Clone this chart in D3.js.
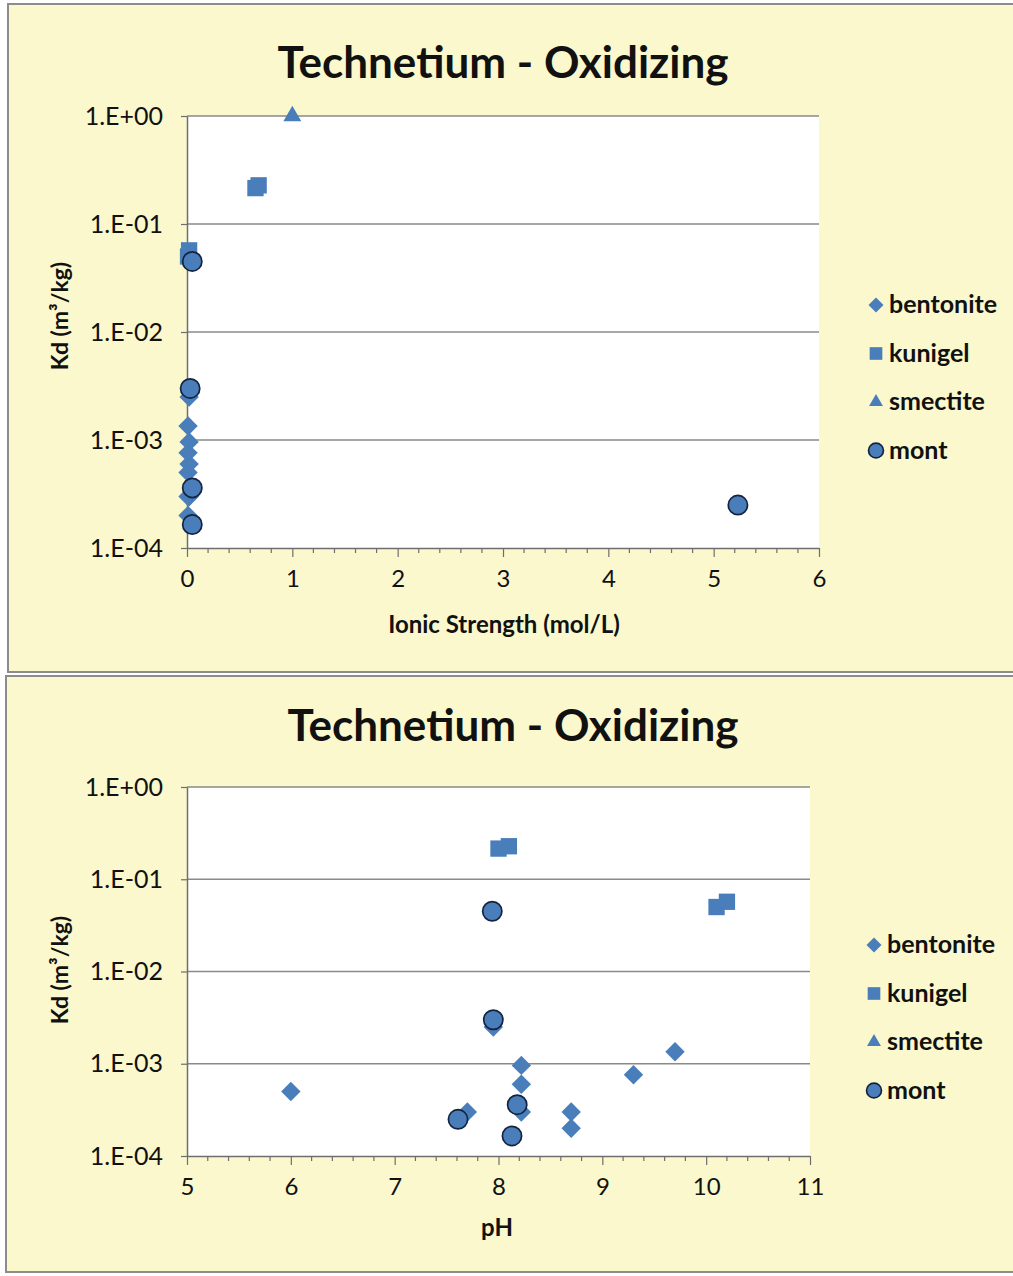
<!DOCTYPE html>
<html>
<head>
<meta charset="utf-8">
<script src="https://cdn.jsdelivr.net/npm/d3@7"></script>
<style>
  html, body { margin: 0; padding: 0; background: #ffffff; }
  svg { display: block; }
  text { font-family: Lato, "Open Sans", sans-serif; fill: #111; }
</style>
</head>
<body>
<svg id="chart" width="1013" height="1276"></svg>
<script>
// Technetium sorption under oxidizing conditions: Kd vs ionic strength and vs pH.
// Each series keeps ionic strength (mol/L), pH and Kd (m3/kg) per measurement.
const seriesNames = ["bentonite", "kunigel", "smectite", "mont"];

const bentoniteIS = [0.02, 0.01, 0.02, 0.01, 0.02, 0.01, 0.02, 0.01, 0.02, 0.01];
const bentonitePH = [7.95, 9.7, 8.22, 9.3, 8.22, 6.0, 7.7, 8.22, 8.7, 8.7];
const bentoniteKd = [2.5e-3, 1.35e-3, 9.6e-4, 7.6e-4, 6.0e-4, 5.0e-4, 3.0e-4, 3.0e-4, 3.0e-4, 2.0e-4];

const kunigelIS = [0.01, 0.02, 0.65, 0.68];
const kunigelPH = [10.1, 10.2, 8.0, 8.1];
const kunigelKd = [0.050, 0.057, 0.215, 0.228];

const smectiteIS = [1.0];
const smectitePH = [null];
const smectiteKd = [1.0];

const montIS = [0.05, 0.03, 0.05, 0.05, 5.23];
const montPH = [7.94, 7.95, 8.18, 8.13, 7.61];
const montKd = [0.045, 0.003, 3.6e-4, 1.65e-4, 2.5e-4];

const yTickValues = [1e-4, 1e-3, 1e-2, 1e-1, 1];
const yTickLabels = ["1.E-04", "1.E-03", "1.E-02", "1.E-01", "1.E+00"];
const isTicks = [0, 1, 2, 3, 4, 5, 6];
const phTicks = [5, 6, 7, 8, 9, 10, 11];

const titleText = "Technetium - Oxidizing";
const yTitle = "Kd (m\u00B3/kg)";

const fillBlue = "#4a7ebb";

function rows(is, ph, kd) {
  return kd.map((k, i) => ({ is: is[i], ph: ph[i], kd: k }));
}
const series = {
  bentonite: rows(bentoniteIS, bentonitePH, bentoniteKd),
  kunigel: rows(kunigelIS, kunigelPH, kunigelKd),
  smectite: rows(smectiteIS, smectitePH, smectiteKd),
  mont: rows(montIS, montPH, montKd)
};

const symbols = {
  bentonite: { type: d3.symbolDiamond2, size: 240, stroke: "none", sw: 0 },
  kunigel: { type: d3.symbolSquare2, size: 340, stroke: "none", sw: 0 },
  smectite: { type: d3.symbolTriangle2, size: 230, stroke: "none", sw: 0 },
  mont: { type: d3.symbolCircle, size: 290, stroke: "#14233f", sw: 1.7 }
};

const svg = d3.select("#chart");

function panel(cfg) {
  const g = svg.append("g");
  // panel background and frame
  g.append("rect")
    .attr("x", cfg.frame[0]).attr("y", cfg.frame[1])
    .attr("width", cfg.frame[2]).attr("height", cfg.frame[3])
    .attr("fill", "#faf8cc").attr("stroke", "#8c8c8c").attr("stroke-width", 2);

  const x = d3.scaleLinear().domain(cfg.xDomain).range([cfg.left, cfg.right]);
  const y = d3.scaleLog().domain([1e-4, 1]).range([cfg.bottom, cfg.top]);

  g.append("rect")
    .attr("x", cfg.left).attr("y", cfg.top)
    .attr("width", cfg.right - cfg.left).attr("height", cfg.bottom - cfg.top)
    .attr("fill", "#ffffff");

  // horizontal gridlines at each decade
  g.append("g").selectAll("line")
    .data(yTickValues.slice(1))
    .join("line")
    .attr("x1", cfg.left).attr("x2", cfg.right)
    .attr("y1", d => y(d)).attr("y2", d => y(d))
    .attr("stroke", "#8a8a8a").attr("stroke-width", 1.3);

  // x axis with major and minor ticks
  const xAxis = d3.axisBottom(x).tickValues(cfg.xTicks).tickFormat(d3.format("d"))
    .tickSizeInner(9).tickSizeOuter(0).tickPadding(13);
  const xg = g.append("g").attr("transform", `translate(0,${cfg.bottom})`).call(xAxis);
  const minor = [];
  for (let i = 0; i < cfg.xTicks.length - 1; i++) {
    for (let k = 1; k < 5; k++) minor.push(cfg.xTicks[i] + k * (cfg.xTicks[i + 1] - cfg.xTicks[i]) / 5);
  }
  xg.selectAll(".minor").data(minor).join("line").attr("class", "minor")
    .attr("x1", d => x(d)).attr("x2", d => x(d)).attr("y1", 0).attr("y2", 5)
    .attr("stroke", "#6e6e6e").attr("stroke-width", 1.2);
  xg.select(".domain").attr("stroke", "#6e6e6e").attr("stroke-width", 1.5);
  xg.selectAll(".tick line").attr("stroke", "#6e6e6e").attr("stroke-width", 1.2);
  xg.selectAll(".tick text").attr("font-size", 24).attr("font-family", "Lato, sans-serif").attr("fill", "#111");

  // y axis, log scale with decade labels
  const yAxis = d3.axisLeft(y).tickValues(yTickValues)
    .tickFormat((d, i) => yTickLabels[i]).tickSizeInner(6).tickSizeOuter(0).tickPadding(18);
  const yg = g.append("g").attr("transform", `translate(${cfg.left},0)`).call(yAxis);
  yg.select(".domain").attr("stroke", "#6e6e6e").attr("stroke-width", 1.5);
  yg.selectAll(".tick line").attr("stroke", "#6e6e6e").attr("stroke-width", 1.2);
  yg.selectAll(".tick text").attr("font-size", 25).attr("font-family", "Lato, sans-serif").attr("fill", "#111");

  // title and axis titles
  g.append("text").attr("x", cfg.titleX).attr("y", cfg.titleY)
    .attr("text-anchor", "middle").attr("font-size", 44).attr("font-weight", 700)
    .text(titleText);
  g.append("text").attr("x", cfg.xTitleX).attr("y", cfg.xTitleY)
    .attr("text-anchor", "middle").attr("font-size", 24).attr("font-weight", 700)
    .attr("fill", "#222").text(cfg.xTitle);
  g.append("text")
    .attr("transform", `translate(68,${cfg.yTitleY}) rotate(-90)`)
    .attr("text-anchor", "middle").attr("font-size", 23).attr("font-weight", 700)
    .attr("fill", "#222").text(yTitle);

  // data markers
  seriesNames.forEach(name => {
    const s = symbols[name];
    const pts = series[name].filter(d => d[cfg.key] != null);
    g.append("g").selectAll("path")
      .data(pts)
      .join("path")
      .attr("transform", d => `translate(${x(d[cfg.key])},${y(d.kd)})`)
      .attr("d", d3.symbol().type(s.type).size(s.size))
      .attr("fill", fillBlue)
      .attr("stroke", s.stroke).attr("stroke-width", s.sw);
  });

  // legend
  const lg = g.append("g").attr("transform", `translate(${cfg.legendX},${cfg.legendY})`);
  seriesNames.forEach((name, i) => {
    const s = symbols[name];
    const row = lg.append("g").attr("transform", `translate(0,${i * 48.5})`);
    row.append("path")
      .attr("transform", "translate(8,0)")
      .attr("d", d3.symbol().type(s.type).size(s.size * 0.6))
      .attr("fill", fillBlue).attr("stroke", s.stroke).attr("stroke-width", s.sw);
    row.append("text").attr("x", 21).attr("y", 8)
      .attr("font-size", 25).attr("font-weight", 700).attr("fill", "#1a1a1a")
      .text(name);
  });
}

panel({
  frame: [8, 4, 1012, 668],
  left: 187, right: 819, top: 116, bottom: 548,
  xDomain: [0, 6], xTicks: isTicks, key: "is",
  titleX: 503, titleY: 78,
  xTitle: "Ionic Strength (mol/L)", xTitleX: 504, xTitleY: 633,
  yTitleY: 316,
  legendX: 868, legendY: 305
});

panel({
  frame: [6, 676, 1012, 596],
  left: 187, right: 810, top: 787, bottom: 1156,
  xDomain: [5, 11], xTicks: phTicks, key: "ph",
  titleX: 513, titleY: 741,
  xTitle: "pH", xTitleX: 497, xTitleY: 1236,
  yTitleY: 970,
  legendX: 866, legendY: 945
});
</script>
</body>
</html>
